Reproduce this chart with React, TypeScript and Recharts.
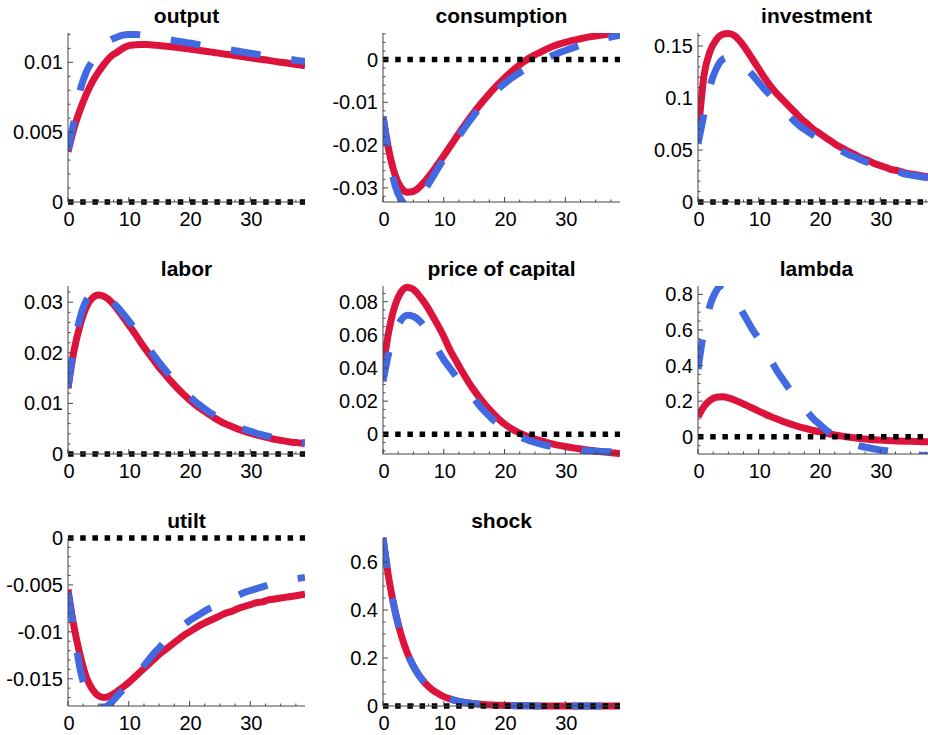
import { LineChart, Line, XAxis, YAxis, ReferenceLine } from "recharts";

// impulse responses, periods 0..39 (red = solid, blue = dashed)
const periods = Array.from({ length: 40 }, (_, i) => i);

const outputRed = [0.0036, 0.0053, 0.0066, 0.0077, 0.0086, 0.0093, 0.0099, 0.0104, 0.0107, 0.011, 0.0112, 0.01125, 0.01128, 0.01127, 0.01124, 0.0112, 0.01116, 0.01111, 0.01106, 0.01101, 0.01096, 0.0109, 0.01083, 0.01077, 0.01071, 0.01064, 0.01058, 0.01052, 0.01045, 0.01039, 0.01033, 0.01026, 0.0102, 0.01014, 0.01007, 0.01001, 0.00995, 0.00988, 0.00982, 0.00976];
const outputBlue = [0.0037, 0.0058, 0.008, 0.0093, 0.0101, 0.0108, 0.0113, 0.0116, 0.0118, 0.01195, 0.012, 0.012, 0.01196, 0.0119, 0.01183, 0.01176, 0.01168, 0.0116, 0.01152, 0.01145, 0.01138, 0.0113, 0.01122, 0.01114, 0.01107, 0.011, 0.01093, 0.01086, 0.01079, 0.01072, 0.01065, 0.01058, 0.01051, 0.01044, 0.01037, 0.0103, 0.01024, 0.01018, 0.01012, 0.01006];

const consRed = [-0.0133, -0.0215, -0.027, -0.03, -0.031, -0.0308, -0.0298, -0.0283, -0.0265, -0.0245, -0.0225, -0.0204, -0.0183, -0.0162, -0.0142, -0.0123, -0.0105, -0.0088, -0.0072, -0.0057, -0.0043, -0.003, -0.0018, -0.0007, 0.0003, 0.0011, 0.0018, 0.0025, 0.0031, 0.0036, 0.004, 0.0044, 0.0047, 0.005, 0.0053, 0.0055, 0.0057, 0.0059, 0.006, 0.0062];
const consBlue = [-0.0133, -0.023, -0.0295, -0.0328, -0.034, -0.0336, -0.0322, -0.0302, -0.0279, -0.0255, -0.0232, -0.021, -0.0189, -0.0168, -0.0148, -0.0129, -0.0112, -0.0096, -0.0081, -0.0068, -0.0056, -0.0045, -0.0035, -0.0026, -0.0017, -0.0009, -0.0002, 0.0004, 0.001, 0.0016, 0.0021, 0.0026, 0.0031, 0.0036, 0.004, 0.0044, 0.0048, 0.0051, 0.0054, 0.0057];

const invRed = [0.064, 0.122, 0.145, 0.156, 0.161, 0.162, 0.16, 0.154, 0.146, 0.137, 0.128, 0.119, 0.111, 0.104, 0.098, 0.092, 0.086, 0.08, 0.075, 0.07, 0.066, 0.062, 0.058, 0.054, 0.051, 0.048, 0.045, 0.042, 0.04, 0.037, 0.035, 0.033, 0.031, 0.03, 0.028, 0.027, 0.026, 0.025, 0.024, 0.023];
const invBlue = [0.056, 0.085, 0.112, 0.128, 0.137, 0.139, 0.138, 0.134, 0.128, 0.122, 0.115, 0.108, 0.102, 0.095, 0.089, 0.083, 0.077, 0.072, 0.068, 0.064, 0.06, 0.057, 0.054, 0.051, 0.048, 0.045, 0.043, 0.04, 0.038, 0.036, 0.034, 0.032, 0.03, 0.029, 0.027, 0.026, 0.025, 0.024, 0.023, 0.022];

const laborRed = [0.013, 0.0205, 0.0255, 0.029, 0.0308, 0.0314, 0.0311, 0.0302, 0.0288, 0.0272, 0.0255, 0.0238, 0.022, 0.0203, 0.0187, 0.0171, 0.0157, 0.0143, 0.013, 0.0118, 0.0107, 0.0097, 0.0088, 0.008, 0.0072, 0.0065, 0.0059, 0.0054, 0.0049, 0.0045, 0.0041, 0.0038, 0.0035, 0.0032, 0.0029, 0.0027, 0.0025, 0.0023, 0.0022, 0.002];
const laborBlue = [0.0132, 0.0215, 0.027, 0.0303, 0.0316, 0.0317, 0.0312, 0.0304, 0.0292, 0.0278, 0.0263, 0.0247, 0.023, 0.0213, 0.0197, 0.0181, 0.0166, 0.0152, 0.0138, 0.0126, 0.0114, 0.0103, 0.0094, 0.0085, 0.0077, 0.007, 0.0064, 0.0058, 0.0053, 0.0049, 0.0045, 0.0041, 0.0038, 0.0035, 0.0032, 0.003, 0.0028, 0.0026, 0.0024, 0.0022];

const priceRed = [0.04, 0.063, 0.078, 0.086, 0.0888, 0.0875, 0.0835, 0.0785, 0.0725, 0.066, 0.059, 0.051, 0.0445, 0.038, 0.032, 0.0265, 0.0215, 0.017, 0.013, 0.0093, 0.0062, 0.0037, 0.0016, -0.0001, -0.0016, -0.0029, -0.004, -0.005, -0.0059, -0.0067, -0.0074, -0.008, -0.0086, -0.0091, -0.0096, -0.0101, -0.0105, -0.0109, -0.0113, -0.0117];
const priceBlue = [0.032, 0.05, 0.062, 0.069, 0.0718, 0.0712, 0.0685, 0.064, 0.058, 0.051, 0.045, 0.04, 0.035, 0.0305, 0.026, 0.0215, 0.0168, 0.0128, 0.0092, 0.0061, 0.0035, 0.0012, -0.0007, -0.0023, -0.0037, -0.0049, -0.0059, -0.0068, -0.0075, -0.0082, -0.0087, -0.0091, -0.0095, -0.0098, -0.01, -0.0102, -0.0104, -0.0105, -0.0106, -0.0107];

const lambdaRed = [0.112, 0.17, 0.205, 0.222, 0.225, 0.219, 0.207, 0.192, 0.176, 0.16, 0.144, 0.128, 0.113, 0.099, 0.086, 0.074, 0.063, 0.053, 0.044, 0.035, 0.027, 0.02, 0.013, 0.007, 0.002, -0.003, -0.007, -0.011, -0.014, -0.017, -0.019, -0.021, -0.023, -0.024, -0.025, -0.026, -0.027, -0.028, -0.028, -0.029];
const lambdaBlue = [0.38, 0.6, 0.74, 0.82, 0.85, 0.83, 0.78, 0.72, 0.66, 0.6, 0.55, 0.49, 0.43, 0.37, 0.32, 0.27, 0.225, 0.18, 0.14, 0.1, 0.07, 0.04, 0.015, -0.008, -0.022, -0.035, -0.046, -0.055, -0.062, -0.068, -0.074, -0.079, -0.084, -0.089, -0.094, -0.098, -0.102, -0.105, -0.108, -0.11];

const utiltRed = [-0.0055, -0.0095, -0.0125, -0.0148, -0.0161, -0.0168, -0.017, -0.0168, -0.0164, -0.0159, -0.0154, -0.0148, -0.0142, -0.0136, -0.013, -0.0124, -0.0119, -0.0114, -0.0109, -0.0104, -0.01, -0.0096, -0.0092, -0.0089, -0.0086, -0.0083, -0.008, -0.0078, -0.0075, -0.0073, -0.0071, -0.0069, -0.0068, -0.0066, -0.0065, -0.0064, -0.0063, -0.0062, -0.0061, -0.006];
const utiltBlue = [-0.0058, -0.01, -0.014, -0.0163, -0.0175, -0.018, -0.018, -0.0176, -0.0169, -0.0162, -0.0155, -0.0148, -0.014, -0.0132, -0.0124, -0.0117, -0.011, -0.0104, -0.0098, -0.0093, -0.0088, -0.0084, -0.008, -0.0076, -0.0073, -0.0069, -0.0066, -0.0063, -0.0061, -0.0058, -0.0056, -0.0054, -0.0052, -0.005, -0.0048, -0.0047, -0.0045, -0.0044, -0.0043, -0.0042];

const shockRed = [0.7, 0.525, 0.394, 0.295, 0.221, 0.166, 0.125, 0.093, 0.07, 0.053, 0.039, 0.03, 0.022, 0.017, 0.0125, 0.0094, 0.007, 0.0053, 0.004, 0.003, 0.0022, 0.0017, 0.0013, 0.001, 0.0007, 0.0005, 0.0004, 0.0003, 0.0002, 0.0002, 0.0001, 0.0001, 0.0001, 0.0001, 0.0001, 0, 0, 0, 0, 0];
const shockBlue = [0.7, 0.525, 0.394, 0.295, 0.221, 0.166, 0.125, 0.093, 0.07, 0.053, 0.039, 0.03, 0.022, 0.017, 0.0125, 0.0094, 0.007, 0.0053, 0.004, 0.003, 0.0022, 0.0017, 0.0013, 0.001, 0.0007, 0.0005, 0.0004, 0.0003, 0.0002, 0.0002, 0.0001, 0.0001, 0.0001, 0.0001, 0.0001, 0, 0, 0, 0, 0];

const xMajor = [0, 10, 20, 30];

type Panel = {
  title: string;
  red: number[];
  blue: number[];
  domain: [number, number];
  yMajor: number[];
  yMinorStep: number;
  col: number;
  row: number;
};

const panels: Panel[] = [
  { title: "output", red: outputRed, blue: outputBlue, domain: [0, 0.0121], yMajor: [0, 0.005, 0.01], yMinorStep: 0.001, col: 0, row: 0 },
  { title: "consumption", red: consRed, blue: consBlue, domain: [-0.0333, 0.0062], yMajor: [-0.03, -0.02, -0.01, 0], yMinorStep: 0.002, col: 1, row: 0 },
  { title: "investment", red: invRed, blue: invBlue, domain: [0, 0.1625], yMajor: [0, 0.05, 0.1, 0.15], yMinorStep: 0.01, col: 2, row: 0 },
  { title: "labor", red: laborRed, blue: laborBlue, domain: [0, 0.0332], yMajor: [0, 0.01, 0.02, 0.03], yMinorStep: 0.002, col: 0, row: 1 },
  { title: "price of capital", red: priceRed, blue: priceBlue, domain: [-0.0119, 0.0895], yMajor: [0, 0.02, 0.04, 0.06, 0.08], yMinorStep: 0.005, col: 1, row: 1 },
  { title: "lambda", red: lambdaRed, blue: lambdaBlue, domain: [-0.097, 0.847], yMajor: [0, 0.2, 0.4, 0.6, 0.8], yMinorStep: 0.05, col: 2, row: 1 },
  { title: "utilt", red: utiltRed, blue: utiltBlue, domain: [-0.0179, 0], yMajor: [-0.015, -0.01, -0.005, 0], yMinorStep: 0.001, col: 0, row: 2 },
  { title: "shock", red: shockRed, blue: shockBlue, domain: [0, 0.7], yMajor: [0, 0.2, 0.4, 0.6], yMinorStep: 0.05, col: 1, row: 2 },
];

const FONT = '"Liberation Sans", Arial, Helvetica, sans-serif';
const FRAME = "#444";
const RED = "#DC143C";
const BLUE = "#4169E1";

const PLOT_W = 237;
const COL_X = [68, 383, 698];
const ROW_Y = [33, 286, 538];
const PLOT_H = [169, 168, 168];
const Y_AXIS_W = 68;
const TOP_PAD = 14;
const X_AXIS_H = 32;
const MAJOR_LEN = 5;
const MINOR_LEN = 2.5;
const TICK_FONT = 20;

const near = (a: number, b: number) => Math.abs(a - b) < 1e-9;
const isMajor = (list: number[], v: number) => list.some((m) => near(m, v));

function tickList(major: number[], step: number, lo: number, hi: number) {
  const out = [...major];
  for (let k = Math.ceil(lo / step - 1e-9); k * step <= hi + 1e-12; k++) {
    const v = +(k * step).toFixed(6);
    if (!isMajor(major, v)) out.push(v);
  }
  return out.sort((p, q) => p - q);
}

const xTicks = tickList(xMajor, 2.5, 0, 39);

function bottomTick(p: any) {
  const v = p.payload.value;
  const major = isMajor(xMajor, v);
  return (
    <g>
      <line x1={p.x} x2={p.x} y1={p.y} y2={p.y - (major ? MAJOR_LEN : MINOR_LEN)} stroke={FRAME} />
      {major && (
        <text x={p.x + 1} y={p.y + 24} textAnchor="middle" fontSize={TICK_FONT} fontFamily={FONT} fill="#000">
          {v}
        </text>
      )}
    </g>
  );
}

function topTick(p: any) {
  const major = isMajor(xMajor, p.payload.value);
  return <line x1={p.x} x2={p.x} y1={p.y} y2={p.y + (major ? MAJOR_LEN : MINOR_LEN)} stroke={FRAME} />;
}

const leftTick = (majors: number[]) => (p: any) => {
  const v = p.payload.value;
  const major = isMajor(majors, v);
  return (
    <g>
      <line x1={p.x} x2={p.x + (major ? MAJOR_LEN : MINOR_LEN)} y1={p.y} y2={p.y} stroke={FRAME} />
      {major && (
        <text x={p.x - 5} y={p.y + 7} textAnchor="end" fontSize={TICK_FONT} fontFamily={FONT} fill="#000">
          {String(v)}
        </text>
      )}
    </g>
  );
};

const rightTick = (majors: number[]) => (p: any) => {
  const major = isMajor(majors, p.payload.value);
  return <line x1={p.x} x2={p.x - (major ? MAJOR_LEN : MINOR_LEN)} y1={p.y} y2={p.y} stroke={FRAME} />;
};

function PanelChart({ p }: { p: Panel }) {
  const h = PLOT_H[p.row];
  const data = periods.map((t, i) => ({ t, red: p.red[i], blue: p.blue[i] }));
  const yTicks = tickList(p.yMajor, p.yMinorStep, p.domain[0], p.domain[1]);
  const overflow = [...p.red, ...p.blue].some((v) => v < p.domain[0] || v > p.domain[1]);
  return (
    <>
      <div
        style={{
          position: "absolute",
          left: COL_X[p.col],
          top: ROW_Y[p.row] - 28,
          width: PLOT_W,
          textAlign: "center",
          fontFamily: FONT,
          fontWeight: "bold",
          fontSize: 21,
          lineHeight: "21px",
          color: "#000",
        }}
      >
        {p.title}
      </div>
      <div style={{ position: "absolute", left: COL_X[p.col] - Y_AXIS_W, top: ROW_Y[p.row] - TOP_PAD }}>
        <LineChart
          width={Y_AXIS_W + PLOT_W + 6}
          height={TOP_PAD + h + X_AXIS_H}
          data={data}
          margin={{ top: TOP_PAD, right: 6, bottom: 0, left: 0 }}
        >
          <XAxis
            xAxisId="x"
            dataKey="t"
            type="number"
            domain={[0, 39]}
            allowDataOverflow
            ticks={xTicks}
            interval={0}
            tick={bottomTick}
            tickLine={false}
            tickSize={0}
            tickMargin={0}
            axisLine={{ stroke: FRAME }}
            height={X_AXIS_H}
          />
          <XAxis
            xAxisId="xt"
            orientation="top"
            type="number"
            domain={[0, 39]}
            allowDataOverflow
            ticks={xTicks}
            interval={0}
            tick={topTick}
            tickLine={false}
            tickSize={0}
            tickMargin={0}
            axisLine={{ stroke: FRAME }}
            height={0}
          />
          <YAxis
            yAxisId="y"
            type="number"
            domain={p.domain}
            allowDataOverflow={overflow}
            ticks={yTicks}
            interval={0}
            tick={leftTick(p.yMajor)}
            tickLine={false}
            tickSize={0}
            tickMargin={0}
            axisLine={{ stroke: FRAME }}
            width={Y_AXIS_W}
          />
          <YAxis
            yAxisId="yr"
            orientation="right"
            type="number"
            domain={p.domain}
            allowDataOverflow
            ticks={yTicks}
            interval={0}
            tick={rightTick(p.yMajor)}
            tickLine={false}
            tickSize={0}
            tickMargin={0}
            axisLine={{ stroke: FRAME }}
            width={0}
          />
          <Line
            xAxisId="x"
            yAxisId="y"
            type="monotone"
            dataKey="red"
            stroke={RED}
            strokeWidth={7}
            dot={false}
            activeDot={false}
            isAnimationActive={false}
          />
          <Line
            xAxisId="x"
            yAxisId="y"
            type="monotone"
            dataKey="blue"
            stroke={BLUE}
            strokeWidth={7}
            strokeDasharray="30 31"
            dot={false}
            activeDot={false}
            isAnimationActive={false}
          />
          <ReferenceLine
            xAxisId="x"
            yAxisId="y"
            y={0}
            stroke="#000"
            strokeWidth={5.5}
            strokeDasharray="5.5 6.7"
          />
        </LineChart>
      </div>
    </>
  );
}

export default function App() {
  return (
    <div
      style={{
        position: "absolute",
        left: 0,
        top: 0,
        width: 928,
        height: 735,
        overflow: "hidden",
        background: "#fff",
      }}
    >
      {panels.map((p) => (
        <PanelChart key={p.title} p={p} />
      ))}
    </div>
  );
}
